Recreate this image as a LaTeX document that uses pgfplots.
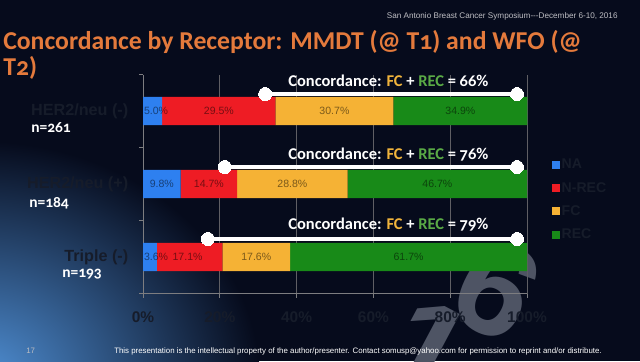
\documentclass[border=0pt]{standalone}
\usepackage{fontspec}
\setmainfont{Carlito}
\newfontfamily\cand{Carlito}[Numbers=OldStyle]
\newfontfamily\arial{Liberation Sans}
\usepackage{pgfplots}
\pgfplotsset{compat=1.18}
\definecolor{bg}{RGB}{6,11,28}
\definecolor{glow}{RGB}{80,145,215}
\definecolor{titleor}{RGB}{228,122,60}
\definecolor{hdr}{RGB}{190,190,195}
\definecolor{cNA}{RGB}{46,128,240}
\definecolor{cNREC}{RGB}{238,28,36}
\definecolor{cFC}{RGB}{245,178,53}
\definecolor{cREC}{RGB}{24,138,24}
\definecolor{fcc}{RGB}{240,180,60}
\definecolor{recc}{RGB}{90,170,70}
\definecolor{axgray}{RGB}{125,125,128}
\definecolor{gridgray}{RGB}{95,95,100}
\definecolor{darklab}{RGB}{22,28,42}
\definecolor{wm}{RGB}{78,84,100}
\tikzset{
  lbl/.style={font=\arial\fontsize{7.5}{9}\selectfont, text=black, text opacity=0.5, inner sep=0},
  conc/.style={anchor=base, inner sep=0, text=white, font=\cand\bfseries\fontsize{11.7}{14}\selectfont},
}
\begin{document}
\begin{tikzpicture}
\begin{scope}[x=0.025cm,y=0.025cm]
\fill[bg] (0,0) rectangle (640,361);
\begin{scope}
\clip (0,0) rectangle (640,361);
\shade[inner color=glow, outer color=bg] (-20,-20) ellipse (280 and 240);
\node[rotate=-28, text=wm, font=\arial\bfseries\fontsize{95}{95}\selectfont, inner sep=0] at (428,12) {1};
\node[rotate=-28, text=wm, font=\arial\bfseries\fontsize{95}{95}\selectfont, inner sep=0] at (497,72) {6};
\end{scope}
\node[anchor=base west, inner sep=0, text=titleor, font=\cand\bfseries\fontsize{18.3}{20}\selectfont] at (3,312) {Concordance by Receptor: MMDT (@ T1) and WFO (@};
\node[anchor=base west, inner sep=0, text=titleor, font=\cand\bfseries\fontsize{18.3}{20}\selectfont] at (3,286) {T2)};
\node[anchor=east, inner sep=0, text=hdr, font=\arial\fontsize{5.8}{6}\selectfont] at (618,345) {San Antonio Breast Cancer Symposium---December 6-10, 2016};
\node[anchor=west, inner sep=0, text=hdr, font=\arial\fontsize{5.6}{6}\selectfont] at (26,10) {17};
\node[anchor=west, inner sep=0, text=white, font=\arial\fontsize{5.6}{6}\selectfont] at (114,10) {This presentation is the intellectual property of the author/presenter. Contact somusp@yahoo.com for permission to reprint and/or distribute.};
\node[anchor=west, inner sep=0, text=white, font=\cand\bfseries\fontsize{11}{13}\selectfont] at (31,233) {n=261};
\node[anchor=west, inner sep=0, text=white, font=\cand\bfseries\fontsize{11}{13}\selectfont] at (29,158) {n=184};
\node[anchor=west, inner sep=0, text=white, font=\cand\bfseries\fontsize{11}{13}\selectfont] at (62,87) {n=193};
\end{scope}
\begin{axis}[
  at={(3.575cm,1.6875cm)}, anchor=south west,
  width=9.6cm, height=5.475cm, scale only axis,
  xmin=0, xmax=100, ymin=-0.5, ymax=2.5,
  xbar stacked, bar width=0.384,
  axis x line*=bottom, axis y line*=left,
  axis line style={-, draw=axgray, line width=0.7pt},
  xtick={0,20,40,60,80,100},
  /pgf/number format/assume math mode=true,
  xticklabel={\pgfmathprintnumber{\tick}\%},
  xticklabel style={font=\arial\bfseries\fontsize{11}{13}\selectfont, text=darklab, yshift=-6.4pt},
  xmajorgrids, grid style={draw=gridgray, line width=0.7pt},
  ytick={-0.5,0.5,1.5,2.5}, yticklabels={},
  extra y ticks={0,1,2},
  extra y tick labels={Triple (-),HER2/neu (+),HER2/neu (-)},
  extra y tick style={major tick length=0pt, yticklabel style={font=\arial\bfseries\fontsize{11.5}{13}\selectfont, text=darklab, xshift=-7pt}},
  tick align=outside, major tick length=0.1cm,
  tick style={draw=axgray, line width=0.7pt},
  xtick pos=bottom, ytick pos=left,
  clip=false,
  legend style={at={(1.065,0.625)}, anchor=north west, draw=none, fill=none, inner sep=0pt,
    font=\arial\bfseries\fontsize{10}{12}\selectfont, text=darklab, row sep=5pt,
    nodes={inner sep=1pt, text height=7.5pt, text depth=2pt}},
  legend cell align=left,
  legend image code/.code={\fill[#1] (0pt,-2.85pt) rectangle (5.7pt,2.85pt);},
]
\addplot[fill=cNA, draw=none] coordinates {(3.6,0) (9.8,1) (5.0,2)};
\addplot[fill=cNREC, draw=none] coordinates {(17.1,0) (14.7,1) (29.5,2)};
\addplot[fill=cFC, draw=none] coordinates {(17.6,0) (28.8,1) (30.7,2)};
\addplot[fill=cREC, draw=none] coordinates {(61.7,0) (46.7,1) (34.9,2)};
\legend{NA,N-REC,FC,REC}
\end{axis}
\begin{axis}[
  at={(3.575cm,1.6875cm)}, anchor=south west,
  width=9.6cm, height=5.475cm, scale only axis,
  xmin=0, xmax=100, ymin=-0.5, ymax=2.5,
  hide axis, clip=false,
]
\node[lbl] at (axis cs:3.4,2) {5.0\%};
\node[lbl] at (axis cs:19.75,2) {29.5\%};
\node[lbl] at (axis cs:49.85,2) {30.7\%};
\node[lbl] at (axis cs:82.65,2) {34.9\%};
\node[lbl] at (axis cs:4.9,1) {9.8\%};
\node[lbl] at (axis cs:17.15,1) {14.7\%};
\node[lbl] at (axis cs:38.9,1) {28.8\%};
\node[lbl] at (axis cs:76.65,1) {46.7\%};
\node[lbl] at (axis cs:3.4,0) {3.6\%};
\node[lbl] at (axis cs:11.6,0) {17.1\%};
\node[lbl] at (axis cs:29.5,0) {17.6\%};
\node[lbl] at (axis cs:69.15,0) {61.7\%};
\addplot[white, line width=2.4pt, mark=*, mark size=4.6pt, mark options={fill=white, draw=white, line width=0pt}] coordinates {(31.8,2.233) (97.4,2.233)};
\addplot[white, line width=2.4pt, mark=*, mark size=4.6pt, mark options={fill=white, draw=white, line width=0pt}] coordinates {(21.3,1.233) (97.4,1.233)};
\addplot[white, line width=2.4pt, mark=*, mark size=4.6pt, mark options={fill=white, draw=white, line width=0pt}] coordinates {(16.9,0.247) (97.4,0.247)};
\node[conc] at (axis cs:63.9,2.33) {Concordance: \textcolor{fcc}{FC} + \textcolor{recc}{REC} = 66\%};
\node[conc] at (axis cs:63.9,1.33) {Concordance: \textcolor{fcc}{FC} + \textcolor{recc}{REC} = 76\%};
\node[conc] at (axis cs:63.9,0.37) {Concordance: \textcolor{fcc}{FC} + \textcolor{recc}{REC} = 79\%};
\end{axis}
\pgfresetboundingbox
\path[use as bounding box] (0,0) rectangle (16cm,9.025cm);
\end{tikzpicture}
\end{document}
